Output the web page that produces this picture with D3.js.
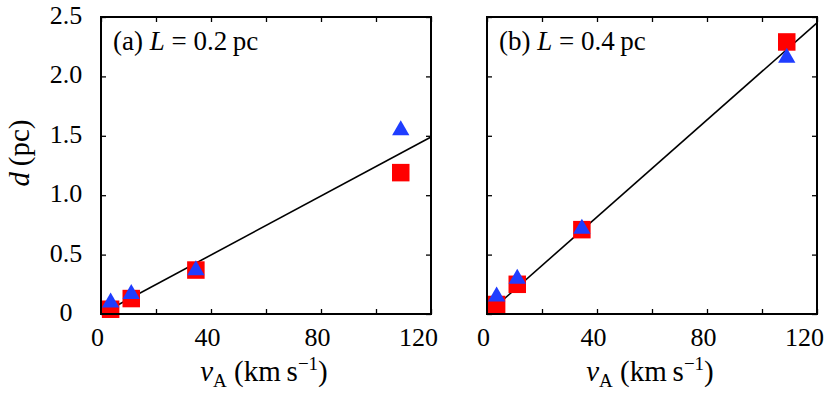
<!DOCTYPE html>
<html>
<head>
<meta charset="utf-8">
<script src="https://cdn.jsdelivr.net/npm/d3@7"></script>
<style>
  body { margin: 0; background: #fff; }
</style>
</head>
<body>
<div id="chart"></div>
<script>
// values
var vA = [3.5, 11, 34.5, 109]
var squaresA = [0.04, 0.13, 0.37, 1.19]
var trianglesA = [0.11, 0.18, 0.38, 1.56]
var squaresB = [0.08, 0.25, 0.71, 2.29]
var trianglesB = [0.16, 0.31, 0.73, 2.17]
var fitX = [0, 120]
var fitA = [0, 1.49]
var fitB = [0, 2.45]
var xTicks = [0, 40, 80, 120]
var xMinor = [0, 20, 40, 60, 80, 100, 120]
var yTicks = [0, 0.5, 1.0, 1.5, 2.0, 2.5]
var yLabels = ["0", "0.5", "1.0", "1.5", "2.0", "2.5"]

var W = 831, H = 393
var pw = 330, ph = 297, plotTop = 17
var panelLeft = [101, 487]
var serif = "'Liberation Serif', 'Times New Roman', 'DejaVu Serif', serif"

var svg = d3.select("#chart").append("svg")
  .attr("width", W).attr("height", H)
  .attr("font-family", serif)

var x = d3.scaleLinear().domain([0, 120]).range([0, pw])
var y = d3.scaleLinear().domain([0, 2.5]).range([ph, 0])

var panels = [
  {tag: "(a)", L: "0.2", sq: squaresA, tri: trianglesA, fit: fitA},
  {tag: "(b)", L: "0.4", sq: squaresB, tri: trianglesB, fit: fitB}
]

var tri = d3.symbol().type(d3.symbolTriangle).size(130)

panels.forEach(function(p, i){
  var g = svg.append("g").attr("transform", "translate(" + panelLeft[i] + "," + plotTop + ")")

  // ticks pointing inward on all four sides
  g.append("g").attr("transform", "translate(0," + ph + ")")
    .call(d3.axisBottom(x).tickValues(xMinor).tickSize(-5).tickFormat(""))
  g.append("g")
    .call(d3.axisTop(x).tickValues(xMinor).tickSize(-5).tickFormat(""))
  g.append("g")
    .call(d3.axisLeft(y).tickValues(yTicks).tickSize(-5).tickFormat(""))
  g.append("g").attr("transform", "translate(" + pw + ",0)")
    .call(d3.axisRight(y).tickValues(yTicks).tickSize(-5).tickFormat(""))
  g.selectAll(".domain").remove()
  g.selectAll(".tick line").attr("stroke", "#000").attr("stroke-width", 1.3)

  // x tick labels
  var xl = g.append("g").attr("transform", "translate(0," + ph + ")")
    .call(d3.axisBottom(x).tickValues(xTicks).tickSize(0).tickPadding(0))
  xl.attr("font-family", serif)
  xl.select(".domain").remove()
  xl.selectAll("text")
    .style("font-size", "26px").style("fill", "#000")
    .attr("y", 32).attr("dy", 0)
    .attr("dx", function(d){ return d == 120 ? -13 : -4 })

  // y tick labels only on left panel
  if (i == 0) {
    var yl = g.append("g")
      .call(d3.axisLeft(y).tickValues(yTicks).tickSize(0).tickPadding(0)
        .tickFormat(function(d, k){ return yLabels[k] }))
    yl.attr("font-family", serif)
    yl.select(".domain").remove()
    yl.selectAll("text")
      .style("font-size", "26px").style("fill", "#000")
      .attr("text-anchor", "middle")
      .attr("x", -35).attr("dy", "0.25em")
  }

  // fit line
  var line = d3.line().x(function(d){ return x(d[0]) }).y(function(d){ return y(d[1]) })
  g.append("path")
    .attr("d", line(d3.zip(fitX, p.fit)))
    .attr("fill", "none").attr("stroke", "#000").attr("stroke-width", 1.6)

  // markers
  var sq = 17.5
  g.selectAll(".sq").data(d3.zip(vA, p.sq)).enter().append("rect")
    .attr("x", function(d){ return x(d[0]) - sq/2 })
    .attr("y", function(d){ return y(d[1]) - sq/2 })
    .attr("width", sq).attr("height", sq)
    .attr("fill", "#ff0000")
  g.selectAll(".tri").data(d3.zip(vA, p.tri)).enter().append("path")
    .attr("d", tri)
    .attr("transform", function(d){ return "translate(" + x(d[0]) + "," + (y(d[1]) + 1.5) + ")" })
    .attr("fill", "#1f3dff")

  // frame
  g.append("rect").attr("width", pw).attr("height", ph)
    .attr("fill", "none").attr("stroke", "#000").attr("stroke-width", 2)

  // panel annotation
  var ann = g.append("text").attr("x", 12).attr("y", 33).style("font-size", "27px")
  ann.append("tspan").text(p.tag + " ")
  ann.append("tspan").style("font-style", "italic").text("L")
  ann.append("tspan").text(" = " + p.L + "\u2009pc")

  // x axis title
  var xt = g.append("text").attr("x", pw/2 - 2).attr("y", 364)
    .attr("text-anchor", "middle").style("font-size", "29px")
  xt.append("tspan").style("font-style", "italic").text("v")
  xt.append("tspan").attr("dy", 6).style("font-size", "19px").text("A")
  xt.append("tspan").attr("dy", -6).text(" (km\u2009s")
  xt.append("tspan").attr("dy", -11).style("font-size", "19px").text("\u22121")
  xt.append("tspan").attr("dy", 11).text(")")
})

// y axis title
var yt = svg.append("text")
  .attr("transform", "translate(29,153) rotate(-90)")
  .attr("text-anchor", "middle").style("font-size", "29px")
yt.append("tspan").style("font-style", "italic").text("d")
yt.append("tspan").text("\u2009(pc)")
</script>
</body>
</html>
